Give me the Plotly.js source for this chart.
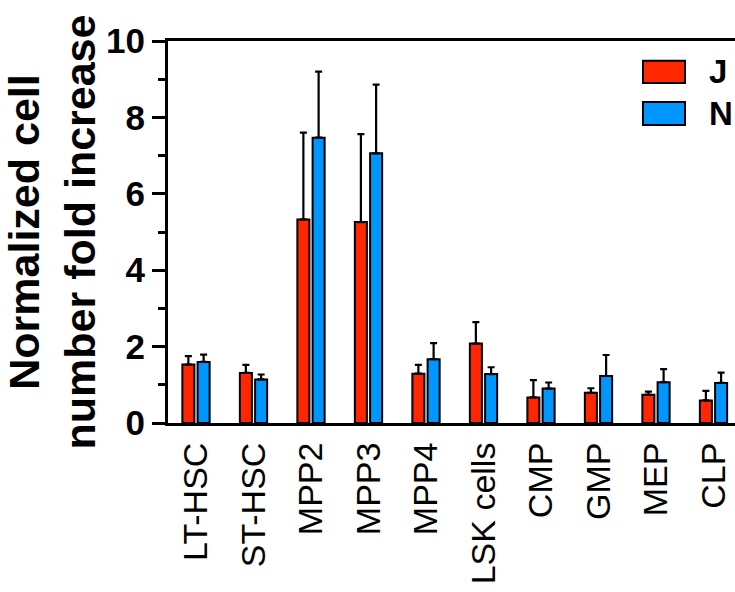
<!DOCTYPE html>
<html>
<head>
<meta charset="utf-8">
<script src="https://cdn.plot.ly/plotly-3.0.1.min.js"></script>
<style>html,body{margin:0;padding:0;background:#fff;}#chart{width:735px;height:592px;}</style>
</head>
<body>
<div id="chart"></div>
<script>
const categories = ["LT-HSC", "ST-HSC", "MPP2", "MPP3", "MPP4", "LSK cells", "CMP", "GMP", "MEP", "CLP"];
const seriesNames = ["J", "N"];
const valuesJ = [1.53, 1.31, 5.33, 5.26, 1.29, 2.08, 0.67, 0.79, 0.74, 0.59];
const errorJ  = [0.22, 0.21, 2.27, 2.30, 0.23, 0.56, 0.45, 0.12, 0.08, 0.25];
const valuesN = [1.60, 1.14, 7.47, 7.06, 1.67, 1.28, 0.90, 1.23, 1.07, 1.05];
const errorN  = [0.19, 0.13, 1.73, 1.80, 0.42, 0.18, 0.16, 0.55, 0.34, 0.27];
const yTicks = [0, 2, 4, 6, 8, 10];
const colors = ["#FF2600", "#0096FF"];

const FONT = "Liberation Sans, Arial, Helvetica, sans-serif";

function barTrace(name, vals, errs, color) {
  return {
    type: "bar",
    name: name,
    x: categories,
    y: vals,
    marker: {color: color, line: {color: "#000", width: 2}},
    error_y: {type: "data", symmetric: false, array: errs, arrayminus: errs.map(() => 0),
              color: "#000", thickness: 2.2, width: 3.5},
    showlegend: false
  };
}

const data = [
  barTrace(seriesNames[0], valuesJ, errorJ, colors[0]),
  barTrace(seriesNames[1], valuesN, errorN, colors[1])
];

const layout = {
  width: 735, height: 592,
  margin: {l: 168, r: 0, t: 41, b: 169, pad: 0},
  paper_bgcolor: "#fff", plot_bgcolor: "#fff",
  font: {family: FONT, color: "#000"},
  barmode: "group",
  bargap: 0.47,
  bargroupgap: 0.21,
  xaxis: {
    type: "category",
    range: [-0.487, 9.374],
    showline: true, linewidth: 3, linecolor: "#000", mirror: true,
    ticks: "", tickangle: -90,
    tickfont: {family: FONT, size: 34, color: "#000"},
    ticklabelstandoff: 3,
    showgrid: false, zeroline: false
  },
  yaxis: {
    range: [0, 10],
    tickvals: yTicks, ticktext: yTicks.map(String),
    ticks: "outside", ticklen: 13, tickwidth: 3, tickcolor: "#000",
    minor: {tickvals: [1, 3, 5, 7, 9], ticks: "outside", ticklen: 7, tickwidth: 3, tickcolor: "#000"},
    showline: true, linewidth: 3, linecolor: "#000",
    tickfont: {family: FONT, size: 35, color: "#000", weight: "bold"},
    showgrid: false, zeroline: false,
    title: {text: "<b>Normalized cell<br>number fold increase</b>",
            font: {family: FONT, size: 43, color: "#000"}, standoff: 8}
  },
  shapes: [
    {type: "rect", xref: "paper", yref: "paper", x0: 0.8377, x1: 0.9118, y0: 0.890, y1: 0.948,
     fillcolor: colors[0], line: {color: "#000", width: 2}},
    {type: "rect", xref: "paper", yref: "paper", x0: 0.8377, x1: 0.9118, y0: 0.780, y1: 0.840,
     fillcolor: colors[1], line: {color: "#000", width: 2}}
  ],
  annotations: [
    {xref: "paper", yref: "paper", x: 0.950, y: 0.919, xanchor: "left", yanchor: "middle",
     text: "<b>" + seriesNames[0] + "</b>", showarrow: false, font: {family: FONT, size: 33, color: "#000"}},
    {xref: "paper", yref: "paper", x: 0.950, y: 0.810, xanchor: "left", yanchor: "middle",
     text: "<b>" + seriesNames[1] + "</b>", showarrow: false, font: {family: FONT, size: 33, color: "#000"}}
  ]
};

Plotly.newPlot("chart", data, layout, {displayModeBar: false, staticPlot: true});
</script>
</body>
</html>
